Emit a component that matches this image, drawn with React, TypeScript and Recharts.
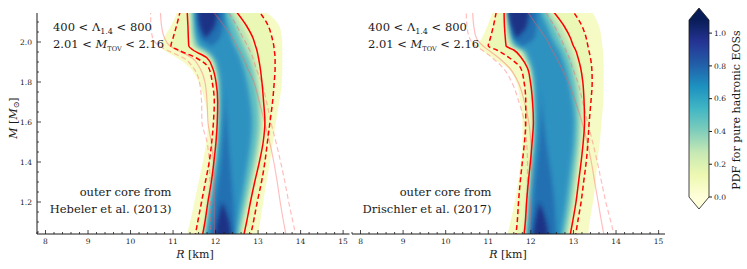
import React from 'react'
import { ComposedChart, Area, Line, XAxis, YAxis, ReferenceArea } from 'recharts'

const SERIF = '"DejaVu Serif", "Liberation Serif", serif'
const INK = '#1a1a1a'

// mass rows shared by every curve [M_sun]
const massGrid = [1.02, 1.1, 1.2, 1.3, 1.4, 1.5, 1.6, 1.7, 1.8, 1.87, 1.92, 1.96, 1.98, 2.02, 2.08, 2.165]

// ---- Hebeler et al. (2013) panel, radii in km ----
const hebSolidL = [11.68, 11.75, 11.82, 11.9, 11.96, 12.01, 12.04, 12.05, 12.01, 11.93, 11.8, 11.47, 11.37, 11.36, 11.35, 11.33]
const hebSolidR = [12.65, 12.73, 12.82, 12.92, 13.03, 13.12, 13.16, 13.13, 13.09, 13.05, 13.01, 12.97, 12.94, 12.88, 12.73, 12.44]
const hebDashL = [11.51, 11.58, 11.67, 11.76, 11.85, 11.91, 11.95, 11.97, 11.92, 11.84, 11.55, 11.12, 10.95, 11.0, 11.08, 11.18]
const hebDashR = [12.81, 12.89, 12.98, 13.08, 13.16, 13.22, 13.28, 13.34, 13.38, 13.4, 13.4, 13.38, 13.37, 13.33, 13.24, 12.98]
const hebHaloL = [11.3, 11.4, 11.5, 11.6, 11.7, 11.78, 11.82, 11.75, 11.6, 11.4, 11.1, 10.78, 10.7, 10.78, 10.95, 11.12]
const hebHaloR = [12.98, 13.05, 13.12, 13.2, 13.28, 13.35, 13.42, 13.5, 13.56, 13.57, 13.57, 13.57, 13.57, 13.56, 13.5, 13.1]
const hebTealL = [11.7, 11.77, 11.84, 11.92, 11.98, 12.03, 12.06, 12.07, 12.04, 11.97, 11.86, 11.6, 11.45, 11.42, 11.4, 11.4]
const hebTealR = [12.6, 12.67, 12.77, 12.87, 12.97, 13.05, 13.1, 13.08, 13.03, 12.98, 12.93, 12.88, 12.85, 12.78, 12.65, 12.4]
const hebCyanL = [11.74, 11.8, 11.87, 11.95, 12.01, 12.06, 12.09, 12.1, 12.08, 12.02, 11.93, 11.72, 11.55, 11.5, 11.47, 11.46]
const hebCyanR = [12.53, 12.6, 12.7, 12.8, 12.9, 12.98, 13.02, 13.0, 12.93, 12.86, 12.78, 12.7, 12.66, 12.58, 12.48, 12.3]
const hebBlueL = [11.78, 11.83, 11.9, 11.97, 12.03, 12.08, 12.11, 12.12, 12.11, 12.06, 11.98, 11.8, 11.65, 11.56, 11.52, 11.5]
const hebBlueR = [12.46, 12.52, 12.6, 12.68, 12.76, 12.83, 12.86, 12.82, 12.74, 12.66, 12.58, 12.5, 12.45, 12.38, 12.3, 12.18]
const hebDeepL = [11.88, 11.94, 12.0, 12.07, 12.13, 12.17, 12.2, 12.22, 12.23, null, null, null, 11.9, 11.66, 11.58, 11.55]
const hebDeepR = [12.43, 12.44, 12.42, 12.38, 12.34, 12.3, 12.27, 12.24, 12.23, null, null, null, 11.9, 12.1, 12.17, 12.2]
const hebNavyL = [11.98, 12.04, 12.16, null, null, null, null, null, null, null, null, null, null, 11.76, 11.63, 11.58]
const hebNavyR = [12.37, 12.32, 12.16, null, null, null, null, null, null, null, null, null, null, 11.76, 11.98, 12.05]
const hebPinkSolidL = [11.97, 11.97, 11.97, 11.97, 11.95, 11.9, 11.82, 11.8, 11.75, 11.63, 11.45, 11.1, 10.93, 10.8, 10.73, 10.7]
const hebPinkSolidR = [13.67, 13.6, 13.52, 13.45, 13.37, 13.27, 13.15, 13.03, 12.9, 12.75, 12.65, 12.55, 12.5, 12.4, 12.2, 11.9]
const hebPinkDashL = [11.88, 11.88, 11.88, 11.87, 11.85, 11.8, 11.68, 11.67, 11.62, 11.48, 11.25, 10.85, 10.68, 10.52, 10.48, 10.47]
const hebPinkDashR = [13.9, 13.82, 13.72, 13.63, 13.53, 13.42, 13.3, 13.2, 13.08, 12.95, 12.88, 12.8, 12.75, 12.65, 12.5, 12.25]

// ---- Drischler et al. (2017) panel ----
const driSolidL = [11.83, 11.87, 11.9, 11.94, 11.99, 12.03, 12.06, 12.04, 11.99, 11.92, 11.78, 11.6, 11.42, 11.4, 11.38, 11.37]
const driSolidR = [12.91, 12.98, 13.06, 13.12, 13.18, 13.23, 13.26, 13.25, 13.22, 13.17, 13.11, 13.05, 13.0, 12.93, 12.78, 12.48]
const driDashL = [11.64, 11.68, 11.71, 11.75, 11.8, 11.85, 11.88, 11.88, 11.84, 11.76, 11.5, 11.2, 11.0, 11.05, 11.12, 11.2]
const driDashR = [13.04, 13.1, 13.18, 13.24, 13.3, 13.34, 13.37, 13.41, 13.44, 13.43, 13.4, 13.36, 13.34, 13.3, 13.2, 12.95]
const driHaloL = [11.43, 11.52, 11.62, 11.7, 11.76, 11.8, 11.8, 11.75, 11.66, 11.45, 11.1, 10.85, 10.75, 10.85, 10.98, 11.12]
const driHaloR = [13.34, 13.38, 13.46, 13.52, 13.56, 13.62, 13.66, 13.7, 13.71, 13.71, 13.7, 13.69, 13.68, 13.66, 13.6, 13.4]
const driTealL = [11.85, 11.89, 11.92, 11.96, 12.01, 12.05, 12.08, 12.06, 12.02, 11.96, 11.84, 11.7, 11.5, 11.45, 11.42, 11.41]
const driTealR = [12.86, 12.93, 13.01, 13.07, 13.13, 13.18, 13.2, 13.2, 13.16, 13.1, 13.04, 12.98, 12.94, 12.86, 12.72, 12.42]
const driCyanL = [11.89, 11.92, 11.95, 11.99, 12.04, 12.08, 12.1, 12.09, 12.06, 12.0, 11.9, 11.8, 11.6, 11.52, 11.48, 11.47]
const driCyanR = [12.78, 12.85, 12.93, 12.99, 13.05, 13.1, 13.12, 13.1, 13.04, 12.97, 12.9, 12.82, 12.77, 12.68, 12.55, 12.33]
const driBlueL = [11.92, 11.95, 11.98, 12.02, 12.06, 12.1, 12.12, 12.11, 12.09, 12.04, 11.96, 11.86, 11.7, 11.58, 11.53, 11.5]
const driBlueR = [12.7, 12.76, 12.83, 12.89, 12.95, 13.0, 13.02, 12.98, 12.9, 12.82, 12.74, 12.66, 12.6, 12.5, 12.38, 12.2]
const driDeepL = [11.98, 12.02, 12.06, 12.1, 12.15, 12.2, 12.22, 12.24, 12.24, null, null, null, 11.8, 11.6, 11.54, 11.5]
const driDeepR = [12.6, 12.58, 12.55, 12.5, 12.43, 12.36, 12.3, 12.26, 12.24, null, null, null, 11.8, 12.08, 12.13, 12.15]
const driNavyL = [12.04, 12.1, 12.2, null, null, null, null, null, null, null, null, null, null, 11.66, 11.54, 11.46]
const driNavyR = [12.42, 12.36, 12.2, null, null, null, null, null, null, null, null, null, null, 11.66, 11.9, 11.96]
const driPinkSolidL = [11.97, 11.98, 12.0, 12.02, 12.02, 12.0, 11.95, 11.85, 11.7, 11.5, 11.25, 11.0, 10.88, 10.72, 10.66, 10.63]
const driPinkSolidR = [13.73, 13.66, 13.58, 13.5, 13.42, 13.32, 13.2, 13.05, 12.88, 12.72, 12.6, 12.5, 12.45, 12.35, 12.15, 11.88]
const driPinkDashL = [11.87, 11.88, 11.9, 11.92, 11.92, 11.9, 11.85, 11.72, 11.55, 11.35, 11.1, 10.85, 10.7, 10.56, 10.5, 10.48]
const driPinkDashR = [13.97, 13.88, 13.76, 13.66, 13.56, 13.45, 13.33, 13.22, 13.1, 12.98, 12.9, 12.82, 12.78, 12.7, 12.55, 12.3]

const xDomain: [number, number] = [7.8, 15.15]
const yDomain: [number, number] = [1.04, 2.145]
const xTicks = Array.from({ length: 37 }, (_, i) => Math.round((39 + i) * 20) / 100)
const yTicks = Array.from({ length: 22 }, (_, i) => Math.round((21 + i) * 5) / 100)
const cbTicks = [0, 0.2, 0.4, 0.6, 0.8, 1.0]
const ylgnbu = ['#ffffd9', '#edf8b1', '#c7e9b4', '#7fcdbb', '#41b6c4', '#1d91c0', '#225ea8', '#253494', '#081d58']

type Arr = (number | null)[]
type PanelSet = {
  haloL: Arr; haloR: Arr; dashL: Arr; dashR: Arr; solidL: Arr; solidR: Arr
  tealL: Arr; tealR: Arr; cyanL: Arr; cyanR: Arr; blueL: Arr; blueR: Arr
  deepL: Arr; deepR: Arr; navyL: Arr; navyR: Arr
  pinkSolidL: Arr; pinkSolidR: Arr; pinkDashL: Arr; pinkDashR: Arr
}

const hebeler: PanelSet = {
  haloL: hebHaloL, haloR: hebHaloR, dashL: hebDashL, dashR: hebDashR, solidL: hebSolidL, solidR: hebSolidR,
  tealL: hebTealL, tealR: hebTealR, cyanL: hebCyanL, cyanR: hebCyanR, blueL: hebBlueL, blueR: hebBlueR,
  deepL: hebDeepL, deepR: hebDeepR, navyL: hebNavyL, navyR: hebNavyR,
  pinkSolidL: hebPinkSolidL, pinkSolidR: hebPinkSolidR, pinkDashL: hebPinkDashL, pinkDashR: hebPinkDashR,
}
const drischler: PanelSet = {
  haloL: driHaloL, haloR: driHaloR, dashL: driDashL, dashR: driDashR, solidL: driSolidL, solidR: driSolidR,
  tealL: driTealL, tealR: driTealR, cyanL: driCyanL, cyanR: driCyanR, blueL: driBlueL, blueR: driBlueR,
  deepL: driDeepL, deepR: driDeepR, navyL: driNavyL, navyR: driNavyR,
  pinkSolidL: driPinkSolidL, pinkSolidR: driPinkSolidR, pinkDashL: driPinkDashL, pinkDashR: driPinkDashR,
}

const pair = (a: Arr, b: Arr, i: number) => (a[i] == null || b[i] == null ? null : [a[i], b[i]])

const buildRows = (p: PanelSet) =>
  massGrid.map((m, i) => ({
    m,
    halo: pair(p.haloL, p.haloR, i),
    dash: pair(p.dashL, p.dashR, i),
    teal: pair(p.tealL, p.tealR, i),
    cyan: pair(p.cyanL, p.cyanR, i),
    blue: pair(p.blueL, p.blueR, i),
    deep: pair(p.deepL, p.deepR, i),
    navy: pair(p.navyL, p.navyR, i),
    sL: p.solidL[i], sR: p.solidR[i], dL: p.dashL[i], dR: p.dashR[i],
    pSL: p.pinkSolidL[i], pSR: p.pinkSolidR[i], pDL: p.pinkDashL[i], pDR: p.pinkDashR[i],
  }))

const isIntTick = (v: number) => Math.round(v * 100) % 100 === 0
const isYMajor = (v: number) => Math.round(v * 100) % 20 === 0

function XTick(props: any) {
  const { x, y, payload, side, label } = props
  const major = isIntTick(payload.value)
  const len = major ? 4 : 2
  const dir = side === 'top' ? 1 : -1
  return (
    <g>
      <line x1={x} x2={x} y1={y} y2={y + dir * len} stroke={INK} strokeWidth={0.8} />
      {major && label && (
        <text x={x} y={y + 10} textAnchor="middle" fontSize={7.5} fontFamily={SERIF} fill={INK}>
          {Math.round(payload.value)}
        </text>
      )}
    </g>
  )
}

function YTick(props: any) {
  const { x, y, payload, side, label } = props
  const major = isYMajor(payload.value)
  const len = major ? 4 : 2
  const dir = side === 'left' ? 1 : -1
  return (
    <g>
      <line x1={x} x2={x + dir * len} y1={y} y2={y} stroke={INK} strokeWidth={0.8} />
      {major && label && (
        <text x={x - 5} y={y + 2.6} textAnchor="end" fontSize={7.5} fontFamily={SERIF} fill={INK}>
          {payload.value.toFixed(1)}
        </text>
      )}
    </g>
  )
}

const AXIS = { stroke: INK, strokeWidth: 1 }

function Panel({ set, width, left, right, showY }: { set: PanelSet; width: number; left: number; right: number; showY: boolean }) {
  const rows = buildRows(set)
  const band = (key: string, fill: string, soft: boolean) => (
    <Area
      key={key}
      dataKey={key}
      type="monotone"
      fill={fill}
      fillOpacity={1}
      stroke="none"
      dot={false}
      activeDot={false}
      filter={soft ? 'url(#soft)' : undefined}
      isAnimationActive={false}
    />
  )
  const curve = (key: string, color: string, opacity: number, w: number, dashed: boolean) => (
    <Line
      key={key}
      dataKey={key}
      type="monotone"
      stroke={color}
      strokeOpacity={opacity}
      strokeWidth={w}
      strokeDasharray={dashed ? '5 3' : undefined}
      dot={false}
      activeDot={false}
      isAnimationActive={false}
    />
  )
  return (
    <ComposedChart
      layout="vertical"
      width={width}
      height={269}
      data={rows}
      margin={{ top: 13, right, bottom: 15, left }}
    >
      <XAxis type="number" domain={xDomain} allowDataOverflow ticks={xTicks} interval={0} tickSize={0} tickMargin={0}
        tickLine={false} axisLine={AXIS} height={20} tick={(p: any) => <XTick {...p} side="bottom" label />} />
      <XAxis xAxisId="top" orientation="top" type="number" domain={xDomain} allowDataOverflow ticks={xTicks} interval={0}
        tickSize={0} tickMargin={0} tickLine={false} axisLine={AXIS} height={0} tick={(p: any) => <XTick {...p} side="top" />} />
      <YAxis type="number" dataKey="m" reversed domain={yDomain} allowDataOverflow ticks={yTicks} interval={0} tickSize={0} tickMargin={0}
        tickLine={false} axisLine={AXIS} width={showY ? 30 : 0} tick={(p: any) => <YTick {...p} side="left" label={showY} />} />
      <YAxis yAxisId="right" orientation="right" type="number" reversed domain={yDomain} allowDataOverflow ticks={yTicks} interval={0}
        tickSize={0} tickMargin={0} tickLine={false} axisLine={AXIS} width={0} tick={(p: any) => <YTick {...p} side="right" />} />

      {band('halo', '#f6fbc6', false)}
      {band('dash', '#ebf7b5', false)}
      {band('teal', '#bde4b6', true)}
      {band('cyan', '#62c0c1', true)}
      {band('blue', '#2e92c1', true)}
      {band('deep', '#2470b1', true)}
      {band('navy', '#1c3385', true)}

      {curve('pSL', '#ff5c5c', 0.4, 1.2, false)}
      {curve('pSR', '#ff5c5c', 0.4, 1.2, false)}
      {curve('pDL', '#ff5c5c', 0.4, 1.2, true)}
      {curve('pDR', '#ff5c5c', 0.4, 1.2, true)}
      {curve('sL', '#ff0000', 1, 1.5, false)}
      {curve('sR', '#ff0000', 1, 1.5, false)}
      {curve('dL', '#ff0000', 1, 1.5, true)}
      {curve('dR', '#ff0000', 1, 1.5, true)}
    </ComposedChart>
  )
}

function ColorbarShape(p: any) {
  const { x, y, width, height } = p
  const tri = width * 0.6
  const outline = `M${x},${y} L${x + width / 2},${y - tri} L${x + width},${y} L${x + width},${y + height} L${x + width / 2},${y + height + tri} L${x},${y + height} Z`
  return (
    <g>
      <path d={`M${x},${y} L${x + width / 2},${y - tri} L${x + width},${y} Z`} fill={ylgnbu[8]} />
      <rect x={x} y={y} width={width} height={height} fill="url(#cbGrad)" />
      <path d={`M${x},${y + height} L${x + width / 2},${y + height + tri} L${x + width},${y + height} Z`} fill={ylgnbu[0]} />
      <path d={outline} fill="none" stroke={INK} strokeWidth={0.8} />
    </g>
  )
}

function Colorbar() {
  return (
    <ComposedChart width={67} height={269} data={[{ v: 0 }]} margin={{ top: 20, right: 8, bottom: 72, left: 9 }}>
      <XAxis type="number" domain={[0, 1]} allowDataOverflow hide />
      <YAxis type="number" orientation="right" domain={[0, 1.08]} allowDataOverflow ticks={cbTicks} interval={0}
        width={30} tickSize={3} tickMargin={2} axisLine={false} tickLine={{ stroke: INK }}
        tick={{ fontSize: 7.5, fontFamily: SERIF, fill: INK }} tickFormatter={(v: number) => v.toFixed(1)} />
      <ReferenceArea y1={0} y2={1.08} shape={ColorbarShape} ifOverflow="visible" />
    </ComposedChart>
  )
}

export default function App() {
  const txt = { fontFamily: SERIF, fill: INK }
  return (
    <div style={{ position: 'absolute', left: 0, top: 0, width: 747, height: 269, background: '#fff' }}>
      <svg width={0} height={0} style={{ position: 'absolute' }}>
        <defs>
          <filter id="soft" x="-20%" y="-5%" width="140%" height="110%">
            <feGaussianBlur stdDeviation="2.2" />
          </filter>
          <linearGradient id="cbGrad" x1="0" y1="1" x2="0" y2="0">
            {ylgnbu.map((c, i) => (
              <stop key={c} offset={i / (ylgnbu.length - 1)} stopColor={c} />
            ))}
          </linearGradient>
        </defs>
      </svg>

      <div style={{ position: 'absolute', left: 0, top: 0 }}>
        <Panel set={hebeler} width={352} left={7} right={2.5} showY />
      </div>
      <div style={{ position: 'absolute', left: 344, top: 0 }}>
        <Panel set={drischler} width={324} left={8} right={3} showY={false} />
      </div>
      <div style={{ position: 'absolute', left: 680, top: 0 }}>
        <Colorbar />
      </div>

      <svg width={747} height={269} style={{ position: 'absolute', left: 0, top: 0, pointerEvents: 'none' }}>
        {[{ x0: 53, xr: 171.5, name: 'Hebeler et al. (2013)', xc: 195 }, { x0: 368, xr: 491.5, name: 'Drischler et al. (2017)', xc: 508 }].map((p) => (
          <g key={p.name} {...txt}>
            <text x={p.x0} y={31} fontSize={11.5}>
              400 &lt; Λ<tspan dy={3} fontSize={8}>1.4</tspan><tspan dy={-3}> &lt; 800</tspan>
            </text>
            <text x={p.x0} y={48} fontSize={11.5}>
              2.01 &lt; <tspan fontStyle="italic">M</tspan><tspan dy={3} fontSize={6.5}>TOV</tspan><tspan dy={-3}> &lt; 2.16</tspan>
            </text>
            <text x={p.xr} y={196} fontSize={11.5} textAnchor="end">outer core from</text>
            <text x={p.xr} y={213} fontSize={11.5} textAnchor="end">{p.name}</text>
            <text x={p.xc} y={258} fontSize={11} textAnchor="middle">
              <tspan fontStyle="italic">R</tspan> [km]
            </text>
          </g>
        ))}
        <text x={17} y={118} fontSize={11} textAnchor="middle" transform="rotate(-90 17 118)" {...txt}>
          <tspan fontStyle="italic">M</tspan> [<tspan fontStyle="italic">M</tspan><tspan dy={2} fontSize={8}>⊙</tspan><tspan dy={-2}>]</tspan>
        </text>
        <text x={740} y={110} fontSize={11} textAnchor="middle" transform="rotate(-90 740 110)" {...txt}>
          PDF for pure hadronic EOSs
        </text>
      </svg>
    </div>
  )
}
